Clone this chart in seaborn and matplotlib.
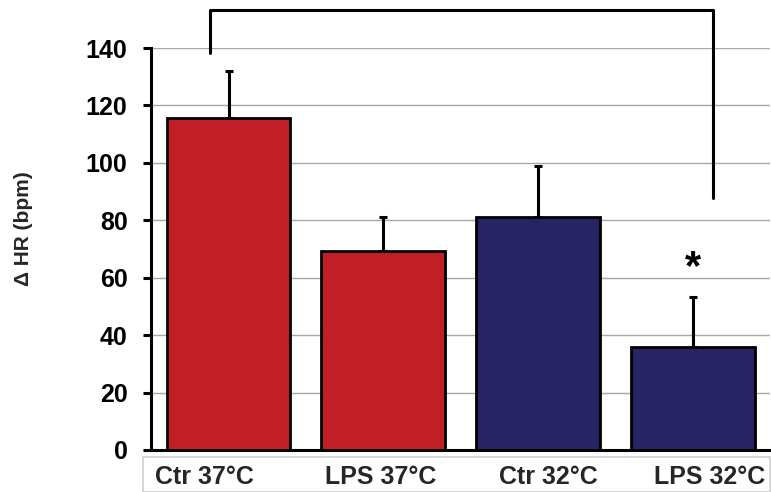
import matplotlib
matplotlib.use("Agg")
import matplotlib.pyplot as plt
from matplotlib.patches import Rectangle
import seaborn as sns
import pandas as pd
import numpy as np

# Heart-rate change per group
groups = ["Ctr 37°C", "LPS 37°C", "Ctr 32°C", "LPS 32°C"]
delta_hr = [115.6, 69.3, 81.2, 35.9]
sem = [16.4, 11.9, 17.7, 17.4]
bar_colors = ["#C01F26", "#C01F26", "#262462", "#262462"]
y_ticks = [0, 20, 40, 60, 80, 100, 120, 140]

sns.set_style("white")
plt.rcParams["font.family"] = ["Liberation Sans", "DejaVu Sans"]
plt.rcParams["font.weight"] = "bold"

df = pd.DataFrame({"group": groups, "hr": delta_hr})

fig = plt.figure(figsize=(7.71, 4.92), dpi=100)
ax = fig.add_axes([0.196, 0.0854, 0.803, 0.817])

sns.barplot(data=df, x="group", y="hr", hue="group", palette=bar_colors,
            saturation=1, legend=False, width=0.8, edgecolor="black",
            linewidth=2.0, errorbar=None, ax=ax, zorder=3)

xpos = np.arange(len(groups))
ax.errorbar(xpos, delta_hr, yerr=[np.zeros(len(sem)), sem], fmt="none",
            ecolor="black", elinewidth=2.2, capsize=3, capthick=2.2, zorder=2)

ax.set_xlim(-0.5, 3.5)
ax.set_ylim(0, 140)
ax.set_yticks(y_ticks)
ax.yaxis.grid(True, color="#a8a8a8", linewidth=1.0, zorder=0)
ax.set_axisbelow(True)
for s in ["top", "right"]:
    ax.spines[s].set_visible(False)
ax.spines["left"].set_linewidth(2.2)
ax.spines["bottom"].set_linewidth(2.2)
ax.spines["left"].set_color("black")
ax.spines["bottom"].set_color("black")
ax.tick_params(axis="y", direction="out", length=6, width=2.2, left=True,
               labelsize=18, pad=11, colors="black")
ax.tick_params(axis="x", length=0, labelsize=18, pad=11)

# tick labels sit in a separate box, slightly offset from the bars
label_pos = [-0.155, 0.98, 2.065, 3.11]
ax.set_xticks(label_pos)
ax.set_xticklabels(groups, fontweight="bold")
for t in ax.get_yticklabels():
    t.set_fontweight("bold")
ax.set_xlabel("")
ax.set_ylabel("Δ HR (bpm)", fontsize=15, fontweight="bold")
ax.yaxis.set_label_coords(-0.19, 0.55)

fig.patches.append(Rectangle((143 / 771, 0.0), 0.999 - 143 / 771, 1 - 457 / 492,
                             transform=fig.transFigure, fill=False,
                             edgecolor="#d0d0d0", linewidth=1.2))

# significance bracket and marker
ax.plot([-0.12, -0.12, 3.13, 3.13], [138.3, 153.3, 153.3, 87.8],
        color="black", linewidth=2.2, clip_on=False, zorder=4)
ax.text(3.0, 63.5, "*", ha="center", va="center", fontsize=30,
        fontweight="bold", color="black")

fig.savefig("out.png", dpi=100)
